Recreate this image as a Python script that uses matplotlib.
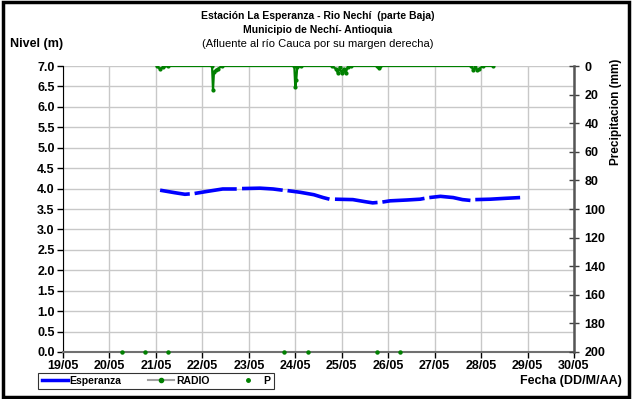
import numpy as np
import matplotlib.pyplot as plt
import matplotlib.dates as mdates
import pandas as pd
from matplotlib.lines import Line2D
from matplotlib.patches import Rectangle

plt.rcParams['font.family'] = ['Liberation Sans', 'DejaVu Sans']
plt.rcParams['font.weight'] = 'bold'

# --- datos ---
# Nivel estacion Esperanza (m); NaN = hueco en el registro
esp_time = ["2010-05-21 02:10", "2010-05-21 09:36", "2010-05-21 15:00", "2010-05-21 17:30", "2010-05-21 18:30",
            "2010-05-21 20:00", "2010-05-22 02:24", "2010-05-22 10:30", "2010-05-22 17:45", "2010-05-22 18:45",
            "2010-05-22 20:30", "2010-05-23 05:45", "2010-05-23 12:30", "2010-05-23 17:30", "2010-05-23 18:30",
            "2010-05-23 20:00", "2010-05-24 02:24", "2010-05-24 09:36", "2010-05-24 14:24", "2010-05-24 17:40", "2010-05-24 18:40",
            "2010-05-24 20:30", "2010-05-25 05:45", "2010-05-25 12:00", "2010-05-25 16:00", "2010-05-25 18:30", "2010-05-25 19:30",
            "2010-05-25 21:00", "2010-05-26 01:00", "2010-05-26 09:36", "2010-05-26 16:30", "2010-05-26 18:45", "2010-05-26 19:45",
            "2010-05-26 21:15", "2010-05-27 03:00", "2010-05-27 09:36", "2010-05-27 14:24", "2010-05-27 18:30", "2010-05-27 19:30",
            "2010-05-27 21:00", "2010-05-28 04:48", "2010-05-28 12:00", "2010-05-28 20:10"]
esp_level = [3.96, 3.90, 3.86, 3.87, np.nan,
             3.88, 3.93, 3.99, 3.99, np.nan,
             4.00, 4.01, 3.99, 3.96, np.nan,
             3.95, 3.91, 3.85, 3.78, 3.74, np.nan,
             3.74, 3.73, 3.68, 3.65, 3.66, np.nan,
             3.67, 3.70, 3.72, 3.74, 3.76, np.nan,
             3.78, 3.81, 3.78, 3.73, 3.71, np.nan,
             3.73, 3.74, 3.76, 3.78]

# Precipitacion RADIO (mm)
radio_time = ["2010-05-21 00:30", "2010-05-21 02:00", "2010-05-21 03:30", "2010-05-21 06:00",
              "2010-05-22 05:00", "2010-05-22 05:30", "2010-05-22 06:00", "2010-05-22 07:00",
              "2010-05-22 08:00", "2010-05-22 10:00",
              "2010-05-23 23:30", "2010-05-24 00:00", "2010-05-24 00:30", "2010-05-24 01:00",
              "2010-05-24 03:00",
              "2010-05-24 19:00", "2010-05-24 21:00", "2010-05-24 22:00", "2010-05-24 23:00",
              "2010-05-25 00:00", "2010-05-25 01:00", "2010-05-25 02:00", "2010-05-25 03:00",
              "2010-05-25 05:00",
              "2010-05-25 18:00", "2010-05-25 19:00", "2010-05-25 20:00",
              "2010-05-27 19:00", "2010-05-27 20:00", "2010-05-27 21:00", "2010-05-27 22:00",
              "2010-05-27 23:00", "2010-05-28 01:00", "2010-05-28 06:00"]
radio_mm = [0, 2, 1, 0,
            0, 17, 4, 3,
            2, 0,
            0, 15, 10, 1,
            0,
            0, 2, 5, 1,
            5, 2, 5, 1,
            0,
            0, 1.5, 0,
            0, 3, 1, 3,
            2, 0, 0]

# Serie P (puntos sobre el eje)
p_time = ["2010-05-20 06:30", "2010-05-20 18:30", "2010-05-21 06:30", "2010-05-23 18:15",
          "2010-05-24 06:30", "2010-05-25 18:15", "2010-05-26 06:15"]
p_val = [0, 0, 0, 0, 0, 0, 0]

x_start = "2010-05-19"
x_end = "2010-05-30"

esp_x = pd.to_datetime(esp_time)
radio_x = pd.to_datetime(radio_time)
p_x = pd.to_datetime(p_time)

fig = plt.figure(figsize=(6.32, 3.99), dpi=100)
ax = fig.add_axes([63/632, 47/399, 511/632, 286/399])

ax.plot(esp_x, esp_level, color="#0000ff", lw=2.6, solid_capstyle="butt")
ax.plot(p_x, p_val, ls="none", marker="o", ms=2.2, color="#008000", clip_on=False, zorder=5)

ax.set_xlim(pd.Timestamp(x_start), pd.Timestamp(x_end))
ax.set_ylim(0, 7)
ax.set_yticks(np.arange(0, 7.01, 0.5))
ax.yaxis.set_major_formatter(plt.FormatStrFormatter("%.1f"))
ax.xaxis.set_major_locator(mdates.DayLocator())
ax.xaxis.set_major_formatter(mdates.DateFormatter("%d/%m"))
ax.grid(True, color="#c8c8c8", lw=1)
ax.set_axisbelow(True)
ax.tick_params(axis="both", labelsize=9, length=4, width=1, direction="out", pad=2)
ax.spines["top"].set_visible(False)
ax.spines["right"].set_visible(False)
ax.spines["left"].set_color("black")
ax.spines["bottom"].set_color("#707070")
ax.spines["bottom"].set_linewidth(1.5)

ax2 = ax.twinx()
ax2.plot(radio_x, radio_mm, color="#008000", lw=1.6, marker="o", ms=2)
ax2.set_ylim(200, 0)
ax2.set_yticks(np.arange(0, 201, 20))
ax2.tick_params(axis="y", labelsize=9, length=7, width=1, direction="inout", pad=4, color="#404040")
ax2.spines["right"].set_color("#555555")
ax2.spines["right"].set_linewidth(1.8)
for s in ["top", "left", "bottom"]:
    ax2.spines[s].set_visible(False)

fig.text(318/632, 1-16/399, "Estación La Esperanza - Rio Nechí  (parte Baja)",
         ha="center", va="center", fontsize=7.5)
fig.text(318/632, 1-30/399, "Municipio de Nechí- Antioquia",
         ha="center", va="center", fontsize=7.5)
fig.text(318/632, 1-44/399, "(Afluente al río Cauca por su margen derecha)",
         ha="center", va="center", fontsize=8, fontweight="normal")
fig.text(10/632, 1-44/399, "Nivel (m)", ha="left", va="center", fontsize=9)
fig.text(616/632, 1-112/399, "Precipitacion (mm)", ha="center", va="center",
         rotation=90, fontsize=8.5)
fig.text(622/632, 1-381/399, "Fecha (DD/M/AA)", ha="right", va="center", fontsize=9)

handles = [Line2D([], [], color="#0000ff", lw=2.5),
           Line2D([], [], color="#a0a0a0", lw=1.5, marker="o", ms=3,
                  markerfacecolor="#008000", markeredgecolor="#008000"),
           Line2D([], [], ls="none", marker="o", ms=2.5, color="#008000")]
leg = fig.legend(handles, ["Esperanza", "RADIO", "P"], loc="center",
                 bbox_to_anchor=(156/632, 1-381/399), ncol=3, frameon=True,
                 fancybox=False, edgecolor="black",
                 handlelength=2.5, handletextpad=0.2, columnspacing=2.5,
                 borderpad=0.3, prop={"weight": "bold", "size": 7.5})
leg.get_frame().set_linewidth(0.8)

fig.patches.append(Rectangle((0.004, 0.006), 0.992, 0.988, transform=fig.transFigure,
                             fill=False, lw=2.5, ec="black"))

fig.canvas.draw()
for lab in ax.get_xticklabels() + ax.get_yticklabels() + ax2.get_yticklabels():
    lab.set_fontweight("bold")

fig.savefig("out.png", dpi=100)
